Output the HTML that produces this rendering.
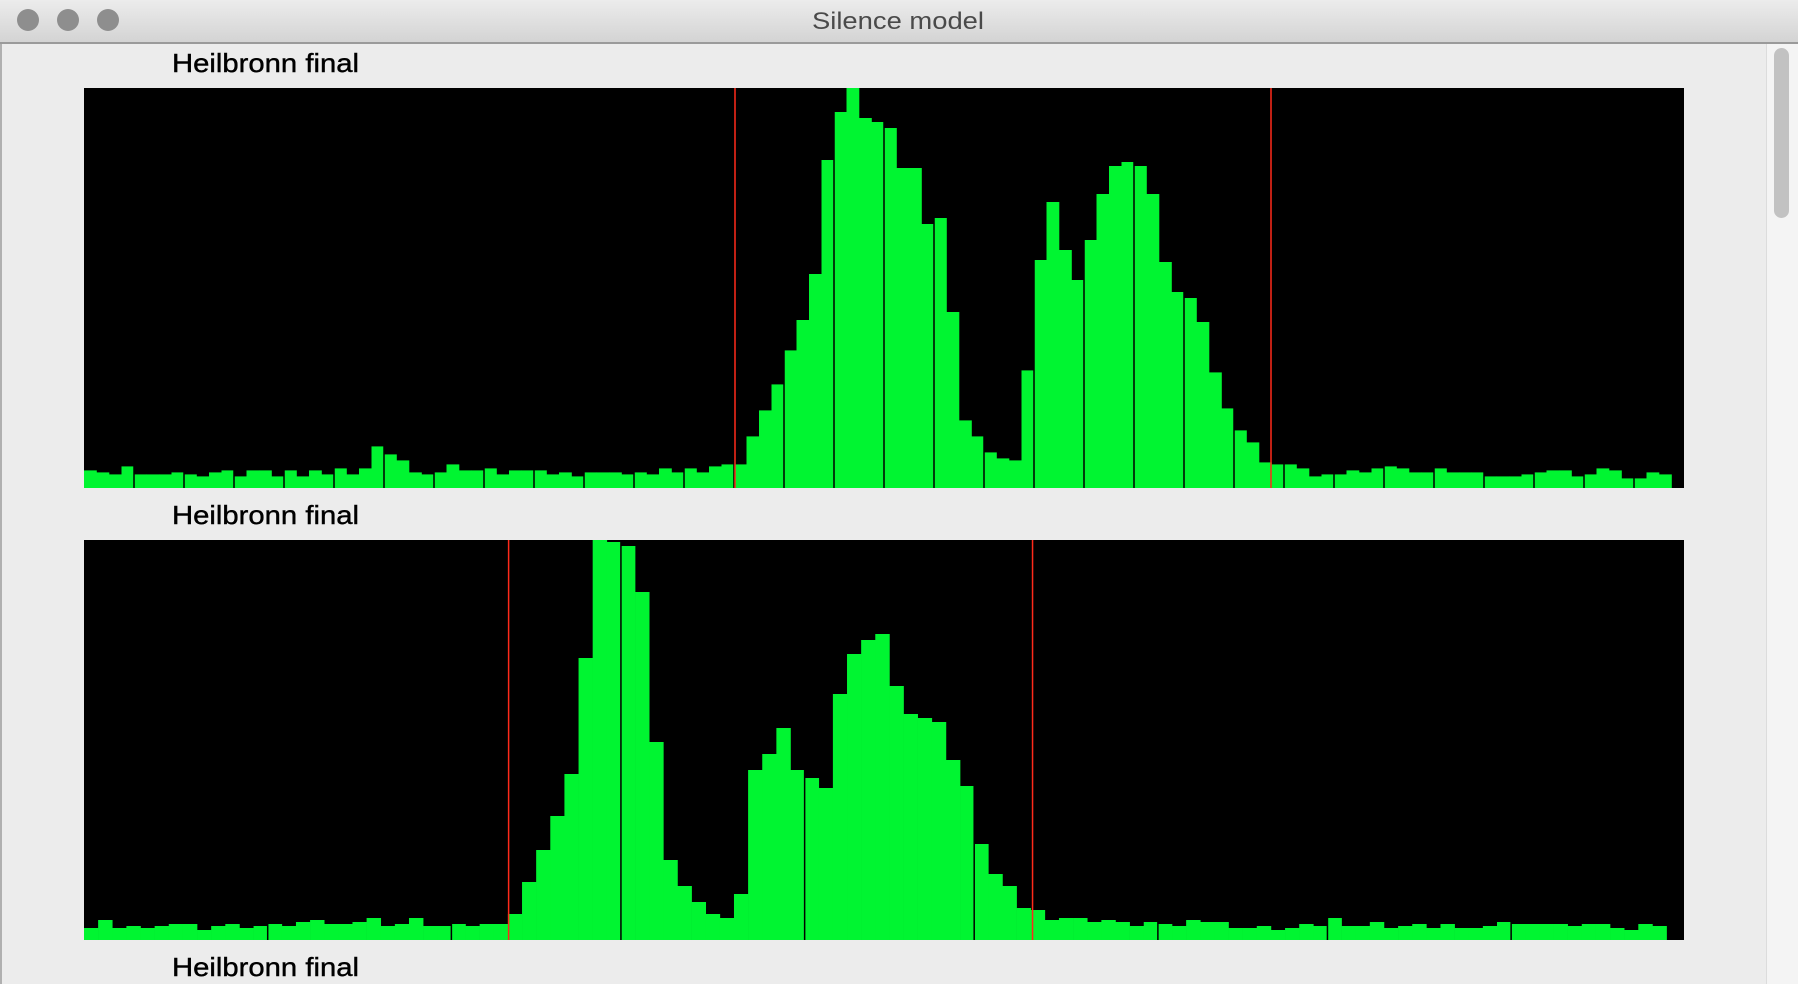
<!DOCTYPE html>
<html><head><meta charset="utf-8"><style>
html,body{margin:0;padding:0;width:1798px;height:984px;overflow:hidden;background:#ececec;font-family:"Liberation Sans",sans-serif}
</style></head><body>
<svg id="root" width="1798" height="984" viewBox="0 0 1798 984">
<defs><linearGradient id="tb" x1="0" y1="0" x2="0" y2="1"><stop offset="0" stop-color="#ececec"/><stop offset="1" stop-color="#d3d3d3"/></linearGradient></defs>
<rect x="0" y="0" width="1798" height="43" fill="url(#tb)"/>
<rect x="0" y="42" width="1798" height="2" fill="#9a9a9a"/>
<circle cx="28" cy="20" r="11" fill="#8e8e8e"/>
<circle cx="68" cy="20" r="11" fill="#8e8e8e"/>
<circle cx="108" cy="20" r="11" fill="#8e8e8e"/>
<text x="812" y="29" font-size="24" textLength="172" lengthAdjust="spacingAndGlyphs" fill="#4a4a4a">Silence model</text>
<rect x="0" y="44" width="2" height="940" fill="#b0b0b0"/>
<rect x="1766" y="44" width="32" height="940" fill="#f4f4f4"/>
<rect x="1766" y="44" width="1" height="940" fill="#dcdcdc"/>
<rect x="1774" y="48" width="15" height="170" rx="7.5" fill="#c2c2c2"/>
<text x="172" y="72" font-size="26" textLength="187" lengthAdjust="spacingAndGlyphs" stroke="#000" stroke-width="0.4" fill="#000">Heilbronn final</text>
<text x="172" y="524" font-size="26" textLength="187" lengthAdjust="spacingAndGlyphs" stroke="#000" stroke-width="0.4" fill="#000">Heilbronn final</text>
<text x="172" y="976" font-size="26" textLength="187" lengthAdjust="spacingAndGlyphs" stroke="#000" stroke-width="0.4" fill="#000">Heilbronn final</text>
<g id="p1"></g>
<g id="p2"></g>
</svg>
<script>
const values1 = [.044,.039,.034,.054,.034,.034,.034,.039,.034,.029,.039,.044,.029,.044,.044,.029,.044,.029,.044,.034,.049,.034,.049,.104,.084,.069,.039,.034,.039,.059,.044,.044,.049,.034,.044,.044,.044,.034,.039,.029,.039,.039,.039,.034,.039,.034,.049,.039,.049,.039,.054,.059,.059,.129,.194,.259,.344,.420,.535,.820,.940,1.0,.925,.915,.900,.80,.80,.660,.675,.440,.169,.129,.089,.074,.069,.294,.570,.715,.595,.520,.620,.735,.805,.815,.805,.735,.565,.490,.475,.415,.289,.199,.144,.114,.064,.059,.059,.049,.029,.034,.034,.044,.039,.049,.054,.049,.039,.039,.049,.039,.039,.039,.029,.029,.029,.034,.039,.044,.044,.029,.034,.049,.044,.024,.024,.039,.034,0];
const thresholds1 = [52.08, 94.96];
const gaps1 = [4,8,12,16,20,24,28,32,36,40,44,48,52,56,60,64,68,72,76,80,84,88,92,96,100,104,108,112,116,120,124];
const values2 = [.030,.050,.030,.035,.030,.035,.040,.040,.025,.035,.040,.030,.035,.040,.035,.045,.050,.040,.040,.045,.055,.035,.040,.055,.035,.035,.040,.035,.040,.040,.065,.145,.225,.310,.415,.705,1.0,.995,.985,.870,.495,.200,.135,.095,.065,.055,.115,.425,.465,.530,.425,.405,.380,.615,.715,.750,.765,.635,.565,.555,.545,.450,.385,.240,.165,.135,.080,.075,.050,.055,.055,.045,.050,.045,.035,.045,.040,.035,.050,.045,.045,.030,.030,.035,.025,.030,.040,.035,.055,.035,.035,.045,.030,.035,.040,.030,.040,.030,.030,.035,.045,.040,.040,.040,.040,.035,.040,.040,.030,.025,.040,.035];
const thresholds2 = [30.05, 67.13];
const gaps2 = [13,26,38,51,63,76,88,101];

const NS = 'http://www.w3.org/2000/svg';
function mk(tag, attrs){const e=document.createElementNS(NS,tag);for(const k in attrs)e.setAttribute(k,attrs[k]);return e;}
function drawPanel(g, top, values, barW, thresholds, gaps){
  const left=84, width=1600, height=400;
  const xScale = i => left + i*barW;
  const yScale = v => top + height - v*height;
  const bg = mk('rect',{x:left,y:top,width:width,height:height,fill:'#000'});
  
  
  g.appendChild(bg);
  values.forEach((v,i)=>{
    if(v<=0) return;
    const y=yScale(v);
    const r = mk('rect',{x:xScale(i),y:y,width:barW+0.3,height:top+height-y,fill:'#00f531'});
    
    
    g.appendChild(r);
  });
  gaps.forEach(k=>{
    const l = mk('rect',{x:xScale(k)-0.75,y:top,width:1.5,height:height,fill:'#000'});
    
    
    g.appendChild(l);
  });
  thresholds.forEach(t=>{
    const l = mk('rect',{x:xScale(t)-0.75,y:top,width:1.5,height:height,fill:'#ff2a1a'});
    
    
    g.appendChild(l);
  });
}
drawPanel(document.getElementById('p1'), 88, values1, 12.5, thresholds1, gaps1);
drawPanel(document.getElementById('p2'), 540, values2, 14.13, thresholds2, gaps2);
</script>
</body></html>
